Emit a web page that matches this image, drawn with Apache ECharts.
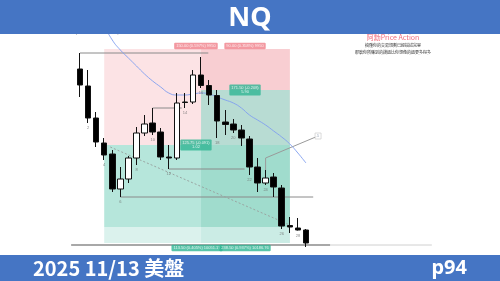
<!DOCTYPE html>
<html><head><meta charset="utf-8">
<script src="https://cdn.jsdelivr.net/npm/echarts@6/dist/echarts.min.js"></script>
<style>html,body{margin:0;padding:0;background:#fff}#c{width:500px;height:281px}</style>
</head><body><div id="c"></div>
<script>
// ---- data ----
const slotCount = 46;                 // bar slots on the time axis (candles occupy 1..29)
const candleSlots = [1,2,3,4,5,6,7,8,9,10,11,12,13,14,15,16,17,18,19,20,21,22,23,24,25,26,27,28,29];
const opens  = [25370,25336,25272,25222,25200,25130,25150,25192,25242,25262,25244,25194,25192,25304,25304,25358,25337,25317,25264,25260,25248,25230,25174,25142,25154,25132,25057,25052,25048];
const closes = [25338,25272,25224,25198,25130,25150,25192,25242,25260,25244,25194,25192,25302,25303,25358,25337,25318,25266,25259,25248,25232,25174,25142,25152,25134,25056,25054,25048,25022];
const lows   = [25314,25262,25214,25188,25124,25114,25142,25178,25236,25238,25188,25170,25188,25292,25300,25332,25298,25232,25238,25242,25216,25158,25124,25138,25114,25050,25042,25047,25014];
const highs  = [25402,25368,25284,25232,25208,25174,25196,25254,25278,25292,25252,25218,25322,25322,25368,25394,25348,25328,25288,25270,25258,25236,25192,25168,25162,25138,25074,25072,25050];
const maSlots  = [3,4,5,6,7,8,9,10,11,12,13,14,15,16,17,18,19,20,21,22,23,24,25,26,27,28,29];
const maValues = [25498,25458,25428,25408,25392,25376,25360,25346,25334,25322,25318,25318,25320,25322,25320,25314,25308,25302,25292,25278,25268,25258,25246,25234,25220,25202,25182];
const barNumberSlots = [2,4,6,8,10,12,14,16,18,20,22,24,26,28];
// position boxes (slot range, price levels)
const boxA = {from:4, to:27, stop:25410, entry:25218, target:25054, reach:25022};
const boxB = {from:16, to:27, stop:25410, entry:25328, target:25054, reach:25022};
// level lines [fromSlot, toSlot, price]
const levelLines = [[1,16.9,25402],[10,13.6,25292],[12,21.4,25170],[6,29.9,25114]];
const baseLine = [[-0.1,32,25018],[32,44.6,25018]];
const trendDashed = [[4.75,25214],[27,25058]];
const callout = [[30.5,25236],[24,25192],[24,25168]];
const boxLabels = [
  {slot:15.37, price:25416, text:'150.00 (0.597%) 9950', kind:'red'},
  {slot:21.45, price:25416, text:'90.00 (0.358%) 9950', kind:'red'},
  {slot:15.37, price:25218, text:'125.75 (-0.091)\n1.02', kind:'teal'},
  {slot:21.45, price:25328, text:'171.50 (-0.208)\n5.90', kind:'teal'},
  {slot:15.5, price:25012, text:'113.50 (0.405%) 10051.17', kind:'teal'},
  {slot:21.45, price:25012, text:'238.50 (0.937%) 10186.76', kind:'teal'}
];
const titleText = 'NQ';
const footerLeft = '2025 11/13 美盤';
const footerRight = 'p94';
const brandText = '阿勳Price Action';
const noteLines = ['搞懂你的交易規劃已經描述完畢','那麼你所賺到的錢還比你想像的還要多得多'];

// ---- build ----
const categories = Array.from({length:slotCount},(_,i)=>String(i));
const kData = categories.map(()=>'-');
candleSlots.forEach((s,i)=>{kData[s]=[opens[i],closes[i],lows[i],highs[i]];});
const lowBySlot = {}; candleSlots.forEach((s,i)=>lowBySlot[s]=lows[i]);

function area(x0,x1,p0,p1,color){return [{xAxis:x0,yAxis:p0,itemStyle:{color}},{xAxis:x1,yAxis:p1}];}
const areas = [
  area(boxA.from,boxA.to,boxA.stop,boxA.entry,'#fce3e5'),
  area(boxA.from,boxA.to,boxA.entry,boxA.target,'#b6e6db'),
  area(boxA.from,boxA.to,boxA.target,boxA.reach,'#dbf2ed'),
  area(boxB.from,boxB.to,boxB.stop,boxB.entry,'#f8ced2'),
  area(boxB.from,boxB.to,boxB.entry,boxA.entry,'#b8dcd3'),
  area(boxB.from,boxB.to,boxA.entry,boxB.target,'#a0dccd'),
  area(boxB.from,boxB.to,boxB.target,boxB.reach,'#cbece5')
];

const lineSeries = [];
levelLines.forEach(l=>lineSeries.push({type:'line',xAxisIndex:1,data:[[l[0],l[2]],[l[1],l[2]]],symbol:'none',lineStyle:{color:'#8a8a8a',width:1},z:3,silent:true}));
lineSeries.push({type:'line',xAxisIndex:1,data:[[baseLine[0][0],baseLine[0][2]],[baseLine[0][1],baseLine[0][2]]],symbol:'none',lineStyle:{color:'#a8a8a8',width:2},z:3});
lineSeries.push({type:'line',xAxisIndex:1,data:[[baseLine[1][0],baseLine[1][2]],[baseLine[1][1],baseLine[1][2]]],symbol:'none',lineStyle:{color:'#d0d0d0',width:1},z:3});
lineSeries.push({type:'line',xAxisIndex:1,data:trendDashed,symbol:'none',lineStyle:{color:'#9aa5a2',width:1,type:[2,2]},z:3});
lineSeries.push({type:'line',xAxisIndex:1,data:callout,symbol:'none',lineStyle:{color:'#9a9a9a',width:1},z:3});
lineSeries.push({type:'scatter',xAxisIndex:1,data:[callout[0]],symbol:'rect',symbolSize:[6,6],itemStyle:{color:'#fff',borderColor:'#c8c8c8',borderWidth:0.8},
  label:{show:true,formatter:'5',fontSize:4,color:'#8a9ab0',position:'inside'},z:6});

const option = {
  animation:false,
  grid:{left:67.9,right:60.9,top:0,bottom:0},
  xAxis:[
    {type:'category',data:categories,boundaryGap:true,show:false},
    {type:'value',min:-0.5,max:slotCount-0.5,show:false}
  ],
  yAxis:{type:'value',min:24946,max:25508,show:false,scale:true},
  series:[
    {type:'line',xAxisIndex:1,data:[],markArea:{silent:true,data:areas},z:1},
    {type:'candlestick',data:kData,barWidth:6,z:5,
     itemStyle:{color:'#ffffff',color0:'#000000',borderColor:'#111111',borderColor0:'#111111',borderWidth:1}},
    {type:'line',xAxisIndex:1,data:maSlots.map((s,i)=>[s,maValues[i]]),symbol:'none',smooth:true,
     lineStyle:{color:'#7f9ff0',width:1,opacity:0.9},z:4},
    ...lineSeries,
    {type:'scatter',data:barNumberSlots.map(s=>[String(s),lowBySlot[s]]),symbolSize:0,z:6,
     label:{show:true,position:'bottom',distance:3,formatter:p=>p.data[0],fontSize:4,color:'#6d6d6d'}},
    {type:'scatter',xAxisIndex:1,symbolSize:0,z:7,
     data:boxLabels.map(b=>({value:[b.slot,b.price],label:{
       show:true,position:'inside',formatter:b.text,fontSize:4,lineHeight:4.5,color:'#fff',align:'center',
       backgroundColor:b.kind==='red'?'#f07f8a':'#2fb594',padding:[1,2],borderRadius:1}}))}
  ],
  graphic:[
    {type:'text',left:70,top:30,z:1,style:{text:'NQ1!  E-mini Nasdaq 100  ·  5  ·  CME',fontSize:5,fill:'#9a9a9a',fontFamily:'Noto Sans'}},
    {type:'rect',shape:{x:0,y:0,width:500,height:34},style:{fill:'#4575c4'},z:100},
    {type:'text',x:250,y:18,z:101,style:{text:titleText,fill:'#fff',fontSize:27,fontWeight:'bold',fontFamily:'Noto Sans',textAlign:'center',textVerticalAlign:'middle'}},
    {type:'rect',shape:{x:0,y:255,width:500,height:26},style:{fill:'#4575c4'},z:100},
    {type:'text',x:33,y:268,z:101,style:{text:footerLeft,fill:'#fff',fontSize:20,fontWeight:'bold',fontFamily:'Noto Sans CJK TC',textVerticalAlign:'middle'}},
    {type:'text',x:467,y:268,z:101,style:{text:footerRight,fill:'#fff',fontSize:20,fontWeight:'bold',fontFamily:'Noto Sans',textAlign:'right',textVerticalAlign:'middle'}},
    {type:'text',x:393,y:37.5,z:50,style:{text:brandText,fill:'#f26d7d',fontSize:7,fontFamily:'Noto Sans CJK TC',textAlign:'center',textVerticalAlign:'middle'}},
    {type:'text',x:393,y:45,z:50,style:{text:noteLines[0],fill:'#333',fontSize:4,fontFamily:'Noto Sans CJK TC',textAlign:'center',textVerticalAlign:'middle'}},
    {type:'text',x:393,y:52,z:50,style:{text:noteLines[1],fill:'#333',fontSize:4,fontFamily:'Noto Sans CJK TC',textAlign:'center',textVerticalAlign:'middle'}}
  ]
};
const chart = echarts.init(document.getElementById('c'),null,{renderer:'canvas'});
chart.setOption(option);
</script>
</body></html>
